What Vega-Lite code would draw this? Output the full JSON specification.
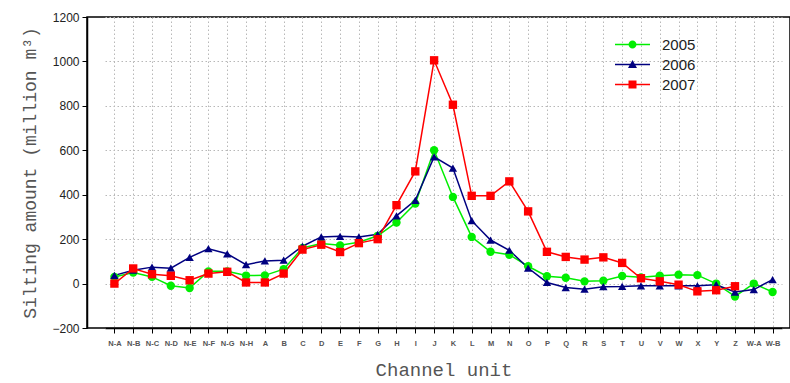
{
  "$schema": "https://vega.github.io/schema/vega-lite/v6.json",
  "width": 703,
  "height": 311,
  "autosize": {"type": "none"},
  "padding": {"left": 87, "top": 17, "right": 0, "bottom": 55},
  "background": "white",
  "config": {
    "view": {"stroke": "black", "strokeWidth": 1.5},
    "axis": {
      "domainColor": "black",
      "domainWidth": 1.5,
      "tickColor": "black",
      "labelColor": "#222",
      "labelFont": "Arial",
      "titleFont": "Liberation Mono",
      "titleFontWeight": "normal",
      "titleColor": "#555",
      "gridColor": "#b8b8b8",
      "gridDash": [1.5, 2.5],
      "gridWidth": 1
    }
  },
  "data": {
    "values": [
      {"unit": "N-A", "y2005": 30, "y2006": 37, "y2007": 0},
      {"unit": "N-B", "y2005": 50, "y2006": 60, "y2007": 68},
      {"unit": "N-C", "y2005": 30, "y2006": 74, "y2007": 42},
      {"unit": "N-D", "y2005": -10, "y2006": 69, "y2007": 35},
      {"unit": "N-E", "y2005": -20, "y2006": 118, "y2007": 15},
      {"unit": "N-F", "y2005": 55, "y2006": 157, "y2007": 45},
      {"unit": "N-G", "y2005": 55, "y2006": 134, "y2007": 53},
      {"unit": "N-H", "y2005": 36, "y2006": 85, "y2007": 5},
      {"unit": "A", "y2005": 37, "y2006": 102, "y2007": 5},
      {"unit": "B", "y2005": 65, "y2006": 105, "y2007": 45},
      {"unit": "C", "y2005": 160, "y2006": 168, "y2007": 153},
      {"unit": "D", "y2005": 180, "y2006": 210, "y2007": 175},
      {"unit": "E", "y2005": 172, "y2006": 213, "y2007": 142},
      {"unit": "F", "y2005": 186, "y2006": 210, "y2007": 182},
      {"unit": "G", "y2005": 215, "y2006": 222, "y2007": 200},
      {"unit": "H", "y2005": 275, "y2006": 305, "y2007": 353},
      {"unit": "I", "y2005": 360, "y2006": 375, "y2007": 505},
      {"unit": "J", "y2005": 600, "y2006": 570, "y2007": 1005},
      {"unit": "K", "y2005": 390, "y2006": 520, "y2007": 805},
      {"unit": "L", "y2005": 210, "y2006": 283, "y2007": 395},
      {"unit": "M", "y2005": 143, "y2006": 196, "y2007": 395},
      {"unit": "N", "y2005": 130, "y2006": 150, "y2007": 460},
      {"unit": "O", "y2005": 78, "y2006": 70, "y2007": 325},
      {"unit": "P", "y2005": 33, "y2006": 5, "y2007": 143},
      {"unit": "Q", "y2005": 26, "y2006": -18, "y2007": 120},
      {"unit": "R", "y2005": 10, "y2006": -25, "y2007": 108},
      {"unit": "S", "y2005": 13, "y2006": -14, "y2007": 118},
      {"unit": "T", "y2005": 34, "y2006": -13, "y2007": 93},
      {"unit": "U", "y2005": 28, "y2006": -10, "y2007": 24},
      {"unit": "V", "y2005": 35, "y2006": -10, "y2007": 10},
      {"unit": "W", "y2005": 40, "y2006": -10, "y2007": -5},
      {"unit": "X", "y2005": 38, "y2006": -10, "y2007": -35},
      {"unit": "Y", "y2005": 0, "y2006": -5, "y2007": -30},
      {"unit": "Z", "y2005": -58, "y2006": -38, "y2007": -12},
      {"unit": "W-A", "y2005": 0, "y2006": -27, "y2007": null},
      {"unit": "W-B", "y2005": -38, "y2006": 18, "y2007": null}
    ]
  },
  "transform": [
    {"fold": ["y2005", "y2006", "y2007"], "as": ["series", "value"]},
    {"filter": "datum.value != null"}
  ],
  "encoding": {
    "x": {
      "field": "unit",
      "type": "ordinal",
      "sort": null,
      "scale": {"type": "point", "range": [18, 695]},
      "axis": {
        "title": "Channel unit",
        "titleFontSize": 19,
        "titlePadding": 14,
        "labelFontSize": 7.5,
        "labelFontWeight": "bold",
        "labelColor": "#555",
        "labelAngle": 0,
        "labelPadding": 6,
        "tickSize": 5,
        "grid": true
      }
    },
    "y": {
      "field": "value",
      "type": "quantitative",
      "scale": {"domain": [-200, 1200], "nice": false, "zero": false},
      "axis": {
        "title": "Silting amount  (million m³)",
        "titleFontSize": 18,
        "titlePadding": 12,
        "values": [-200, 0, 200, 400, 600, 800, 1000, 1200],
        "format": "d",
        "labelFontSize": 12,
        "labelPadding": 3,
        "tickSize": 5,
        "grid": true
      }
    }
  },
  "layer": [
    {
      "mark": {"type": "line", "strokeWidth": 1.5},
      "encoding": {
        "color": {
          "field": "series",
          "type": "nominal",
          "scale": {"domain": ["y2005", "y2006", "y2007"], "range": ["#00ee00", "#000080", "#ff0000"]},
          "legend": null
        }
      }
    },
    {
      "mark": {"type": "point", "filled": true, "opacity": 1, "size": 70},
      "encoding": {
        "color": {
          "field": "series",
          "type": "nominal",
          "scale": {"domain": ["y2005", "y2006", "y2007"], "range": ["#00ee00", "#000080", "#ff0000"]},
          "legend": null
        },
        "shape": {
          "field": "series",
          "type": "nominal",
          "scale": {"domain": ["y2005", "y2006", "y2007"], "range": ["circle", "triangle-up", "square"]},
          "legend": null
        }
      }
    },
    {
      "transform": [{"filter": "false"}],
      "mark": {"type": "point", "filled": true, "size": 100},
      "encoding": {
        "color": {
          "field": "series",
          "type": "nominal",
          "scale": {"domain": ["y2005", "y2006", "y2007"], "range": ["#00ee00", "#000080", "#ff0000"]},
          "legend": {
            "orient": "none",
            "legendX": 538,
            "legendY": 20,
            "title": null,
            "padding": 0,
            "labelExpr": "replace(datum.label, 'y', '')",
            "labelFont": "Arial",
            "labelFontSize": 15,
            "labelColor": "#222",
            "labelOffset": 22,
            "rowPadding": 4,
            "symbolSize": 100,
            "symbolStrokeWidth": 0,
            "symbolOpacity": 1
          }
        },
        "shape": {
          "field": "series",
          "type": "nominal",
          "scale": {
            "domain": ["y2005", "y2006", "y2007"],
            "range": [
              "M-3.5,-0.15H3.5V0.15H-3.5Z M-0.8,0A0.8,0.8 0 1,1 0.8,0A0.8,0.8 0 1,1 -0.8,0Z",
              "M-3.5,-0.15H3.5V0.15H-3.5Z M-0.9,0.7L0,-0.9L0.9,0.7Z",
              "M-3.5,-0.15H3.5V0.15H-3.5Z M-0.8,-0.8H0.8V0.8H-0.8Z"
            ]
          },
          "legend": {
            "orient": "none",
            "legendX": 538,
            "legendY": 20,
            "title": null,
            "padding": 0,
            "labelExpr": "replace(datum.label, 'y', '')",
            "labelFont": "Arial",
            "labelFontSize": 15,
            "labelColor": "#222",
            "labelOffset": 22,
            "rowPadding": 4,
            "symbolSize": 100,
            "symbolStrokeWidth": 0,
            "symbolOpacity": 1
          }
        }
      }
    }
  ],
  "resolve": {
    "scale": {"color": "independent", "shape": "independent"},
    "legend": {"color": "independent", "shape": "independent"}
  }
}
